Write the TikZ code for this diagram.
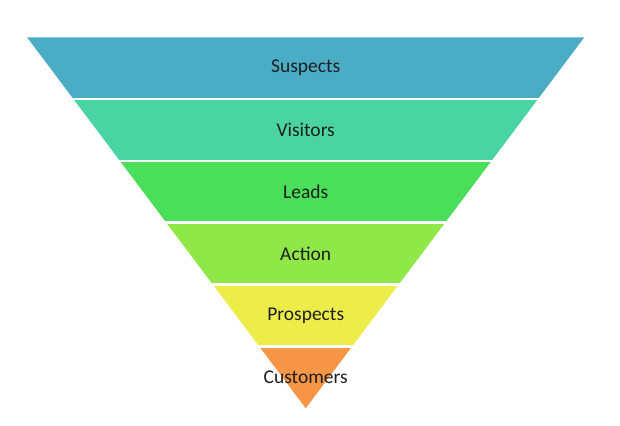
\documentclass[tikz,border=0pt]{standalone}
\usepackage{fontspec}
\setmainfont{Carlito}
\definecolor{suspects}{HTML}{4BACC6}
\definecolor{visitors}{HTML}{4AD3A3}
\definecolor{leads}{HTML}{4ADE5A}
\definecolor{action}{HTML}{8FE847}
\definecolor{prospects}{HTML}{EDED4A}
\definecolor{customers}{HTML}{F79646}
\begin{document}
\begin{tikzpicture}[x=1pt, y=1pt, font=\fontsize{19.5}{23}\selectfont, line join=round]
	\def\cx{305.7} \def\ya{16.7} \def\H{371} \def\k{0.751}
	\pgfmathsetmacro\dh{\H/6}
	\useasboundingbox (0,0) rectangle (620,425);
	\foreach \i/\col/\txt in {0/customers/Customers,1/prospects/Prospects,2/action/Action,3/leads/Leads,4/visitors/Visitors,5/suspects/Suspects}{
		\pgfmathsetmacro\ylo{\ya+\i*\dh} \pgfmathsetmacro\yhi{\ylo+\dh}
		\pgfmathsetmacro\wlo{\k*\i*\dh} \pgfmathsetmacro\whi{\k*(\i+1)*\dh}
		\fill[\col] (\cx-\wlo,\ylo)--(\cx+\wlo,\ylo)--(\cx+\whi,\yhi)--(\cx-\whi,\yhi)--cycle;
		\node[text=black!88] (\col) at (\cx,\ylo+\dh/2) {\txt};
	}
	% white gaps between the bands
	\foreach \i in {1,...,5} \draw[white, line width=2.6] (\cx-290,\ya+\i*\dh)--(\cx+290,\ya+\i*\dh);
\end{tikzpicture}
\end{document}
